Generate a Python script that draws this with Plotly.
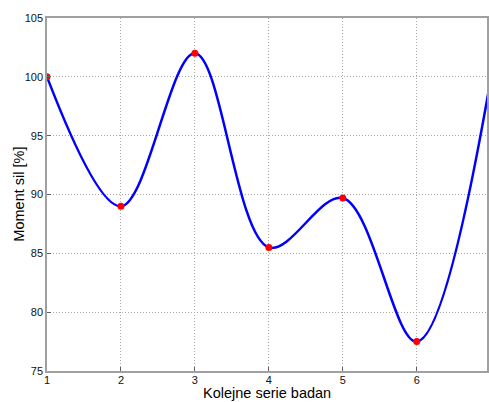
import plotly.graph_objects as go

series_x = [1, 2, 3, 4, 5, 6]
series_y = [100.0, 89.0, 102.0, 85.5, 89.7, 77.5]
curve_x = [1, 2, 3, 4, 5, 6, 7]
curve_y = [100.0, 89.0, 102.0, 85.5, 89.7, 77.5, 99.8]
x_ticks = [1, 2, 3, 4, 5, 6]
y_ticks = [75, 80, 85, 90, 95, 100, 105]
x_title = "Kolejne serie badan"
y_title = "Moment sil [%]"

fig = go.Figure()
fig.add_trace(go.Scatter(x=curve_x, y=curve_y, mode="lines",
                         line=dict(color="#0000ff", width=2.5, shape="spline", smoothing=1.0),
                         hoverinfo="skip", showlegend=False))
fig.add_trace(go.Scatter(x=series_x, y=series_y, mode="markers",
                         marker=dict(color="#ff0000", size=7),
                         showlegend=False))

axis_common = dict(showline=True, linecolor="#a0a0a0", linewidth=1.5, mirror=True,
                   ticks="inside", ticklen=4, tickcolor="#606060",
                   showgrid=True, gridcolor="#a8a8a8", griddash="1px,2px", gridwidth=1,
                   zeroline=False, tickfont=dict(family="Liberation Sans, Arial", size=11, color="#111"))

fig.update_xaxes(range=[1, 6.95], tickvals=x_ticks, ticklabelstandoff=-2, **axis_common)
fig.update_yaxes(range=[75, 105], tickvals=y_ticks, **axis_common)

H = 402
font_t = dict(family="Liberation Sans, Arial", size=14.5, color="#000")
fig.add_annotation(text=x_title, xref="paper", yref="paper", x=0.5, y=(H - 31 - 393) / (H - 49),
                   xanchor="center", yanchor="middle", showarrow=False, font=font_t)
fig.add_annotation(text=y_title, xref="paper", yref="paper", x=(18 - 47) / 442, y=0.5,
                   xanchor="center", yanchor="middle", textangle=-90, showarrow=False, font=font_t)

fig.update_layout(width=489, height=H, margin=dict(l=47, r=0, t=18, b=31),
                  plot_bgcolor="white", paper_bgcolor="white")

fig.write_html("out.html")
